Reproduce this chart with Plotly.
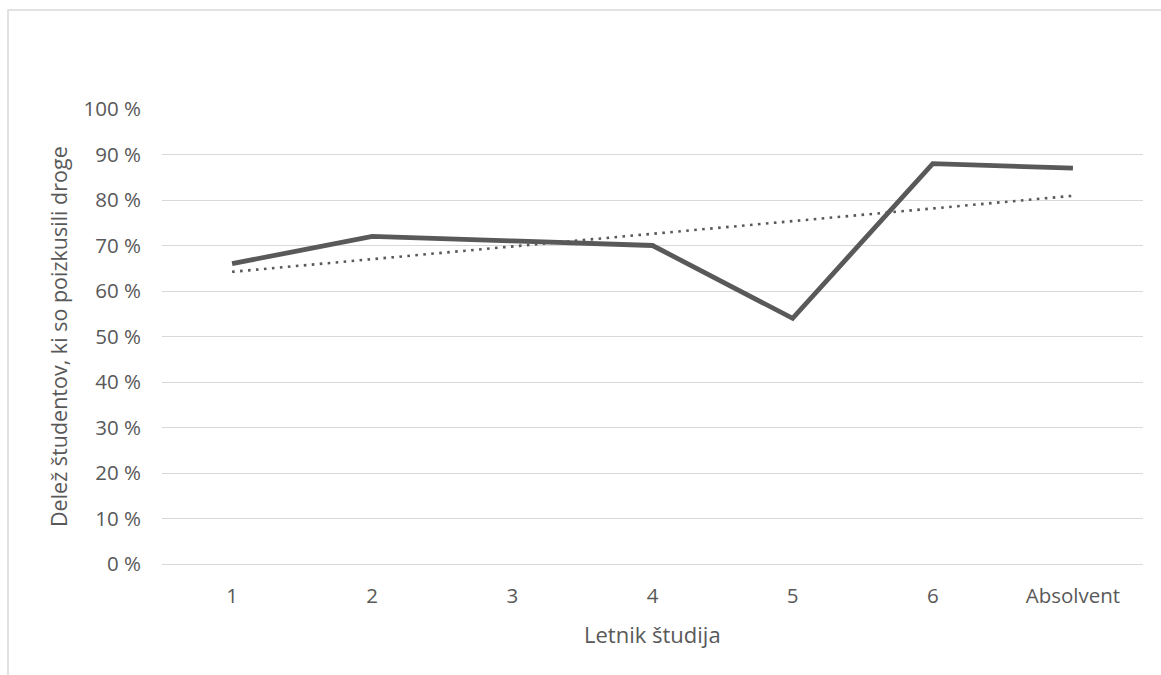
import numpy as np
import plotly.graph_objects as go

categories = ["1", "2", "3", "4", "5", "6", "Absolvent"]
values = [66, 72, 71, 70, 54, 88, 87]
y_ticks = [0, 10, 20, 30, 40, 50, 60, 70, 80, 90, 100]
y_ticktext = [f"{v} %" for v in y_ticks]

# linear trendline (least squares) computed from the data
idx = np.arange(1, len(values) + 1)
slope, intercept = np.polyfit(idx, values, 1)
trend = (slope * idx + intercept).tolist()

TXT = "#595959"
GRID = "#d9d9d9"
FONT = "Open Sans"

fig = go.Figure()
fig.add_trace(go.Scatter(x=categories, y=values, mode="lines",
                         line=dict(color="#595959", width=4.8), showlegend=False))
fig.add_trace(go.Scatter(x=categories, y=trend, mode="lines",
                         line=dict(color="#595959", width=2.6, dash="2.6px,5.4px"),
                         showlegend=False))

W, H = 1161, 675
L, R, T, B = 162, 18, 109, 111
pw, ph = W - L - R, H - T - B

def px_x(x):
    return (x - L) / pw

def px_y(y):
    return (H - B - y) / ph

fig.add_shape(type="rect", xref="paper", yref="paper",
              x0=px_x(8), x1=px_x(W + 5), y0=px_y(H + 5), y1=px_y(10),
              line=dict(color=GRID, width=1.5), fillcolor="rgba(0,0,0,0)", layer="below")

fig.add_annotation(text="Delež študentov, ki so poizkusili droge", textangle=-90,
                   xref="paper", yref="paper", x=px_x(58), y=px_y(337),
                   xanchor="center", yanchor="middle", showarrow=False,
                   font=dict(size=21.5, color=TXT, family=FONT))
fig.add_annotation(text="Letnik študija",
                   xref="paper", yref="paper", x=0.5, y=px_y(634),
                   xanchor="center", yanchor="middle", showarrow=False,
                   font=dict(size=22, color=TXT, family=FONT))

fig.update_layout(
    width=W, height=H,
    margin=dict(l=L, r=R, t=T, b=B, autoexpand=False),
    paper_bgcolor="white", plot_bgcolor="white",
    font=dict(family=FONT, color=TXT, size=20.5),
    xaxis=dict(type="category", range=[-0.5, len(categories) - 0.5],
               showgrid=False, zeroline=False, showline=False,
               ticks="", ticklabelstandoff=17, automargin=False,
               tickfont=dict(size=20.5, color=TXT)),
    yaxis=dict(range=[0, 100], tickmode="array", tickvals=y_ticks, ticktext=y_ticktext,
               showgrid=True, gridcolor=GRID, gridwidth=1.3,
               zeroline=True, zerolinecolor=GRID, zerolinewidth=1.3,
               showline=False, ticks="", ticklabelstandoff=20, automargin=False,
               tickfont=dict(size=20.5, color=TXT)),
)

fig.write_html("out.html", config={"displayModeBar": False},
               post_script="document.body.style.margin='0';")
